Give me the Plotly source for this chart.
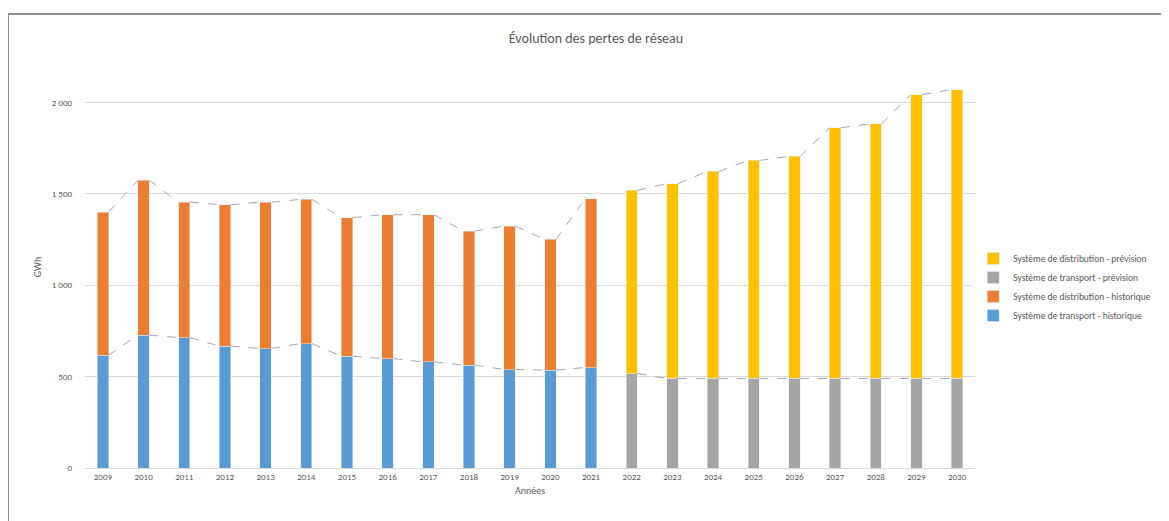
import plotly.graph_objects as go

years_hist = list(range(2009, 2022))
years_fore = list(range(2022, 2031))

transport_hist = [617, 727, 714, 667, 654, 681, 612, 599, 581, 563, 539, 536, 550]
total_hist = [1400, 1574, 1455, 1441, 1455, 1470, 1370, 1386, 1386, 1297, 1324, 1251, 1474]
distribution_hist = [t - b for t, b in zip(total_hist, transport_hist)]

transport_fore = [517, 490, 490, 490, 490, 490, 490, 490, 490]
total_fore = [1519, 1556, 1623, 1683, 1705, 1862, 1883, 2044, 2071]
distribution_fore = [t - b for t, b in zip(total_fore, transport_fore)]

names = [
    "Système de transport - historique",
    "Système de distribution - historique",
    "Système de transport - prévision",
    "Système de distribution - prévision",
]
colors = ["#5B9BD5", "#ED7D31", "#A5A5A5", "#FFC000"]

BAR_W = 0.28

W, H = 1161, 513
L, R, T, B = 77, 194, 58, 53
PW, PH = W - L - R, H - T - B

fig = go.Figure()

def series_line(xs, ys):
    lx, ly = [], []
    for i in range(len(xs) - 1):
        lx += [xs[i] + BAR_W / 2, xs[i + 1] - BAR_W / 2, None]
        ly += [ys[i], ys[i + 1], None]
    return go.Scatter(x=lx, y=ly, mode="lines", showlegend=False, hoverinfo="skip",
                      line=dict(color="#A6A6B8", width=1, dash="dash"))

fig.add_trace(go.Bar(x=years_hist, y=transport_hist, name=names[0], marker_color=colors[0], width=BAR_W))
fig.add_trace(go.Bar(x=years_hist, y=distribution_hist, name=names[1], marker_color=colors[1], width=BAR_W))
fig.add_trace(go.Bar(x=years_fore, y=transport_fore, name=names[2], marker_color=colors[2], width=BAR_W))
fig.add_trace(go.Bar(x=years_fore, y=distribution_fore, name=names[3], marker_color=colors[3], width=BAR_W))

fig.add_trace(series_line(years_hist, transport_hist))
fig.add_trace(series_line(years_hist, total_hist))
fig.add_trace(series_line(years_fore, transport_fore))
fig.add_trace(series_line(years_fore, total_fore))

bx = (0 - L) / PW
by = (T + PH - 6) / PH

fig.update_layout(
    barmode="stack",
    width=W, height=H,
    margin=dict(l=L, r=R, t=T, b=B, autoexpand=False),
    paper_bgcolor="white", plot_bgcolor="white",
    font=dict(family="Calibri, Carlito, Liberation Sans, Arial", color="#595959", size=9),
    title=dict(text="Évolution des pertes de réseau", x=588 / W, xanchor="center",
               y=1 - 30 / H, yanchor="middle", font=dict(size=14, color="#595959")),
    legend=dict(x=0.998, xanchor="left", y=0.45, yanchor="middle", traceorder="reversed",
                font=dict(size=9.5, color="#595959"), itemwidth=30, tracegroupgap=0),
    xaxis=dict(range=[2008.56, 2030.44], tickmode="array", tickvals=years_hist + years_fore,
               ticktext=[str(y) for y in years_hist + years_fore],
               showgrid=False, showline=True, linecolor="#D9D9D9", linewidth=1,
               ticks="", title=dict(text="Années", font=dict(size=10, color="#595959"), standoff=6)),
    yaxis=dict(range=[0, 2200], tickmode="array", tickvals=[0, 500, 1000, 1500, 2000],
               ticktext=["0", "500", "1 000", "1 500", "2 000"],
               showgrid=True, gridcolor="#D9D9D9", gridwidth=1, zeroline=False, showline=False,
               ticks="", ticklabelstandoff=12,
               title=dict(text="GWh", font=dict(size=10, color="#595959"), standoff=8)),
    shapes=[
        dict(type="line", xref="paper", yref="paper", x0=bx, x1=1.3,
             y0=by, y1=by, line=dict(color="#8C8C8C", width=2)),
        dict(type="line", xref="paper", yref="paper", x0=bx, x1=bx,
             y0=by, y1=-0.3, line=dict(color="#8C8C8C", width=2)),
    ],
)

fig.write_html("out.html")
